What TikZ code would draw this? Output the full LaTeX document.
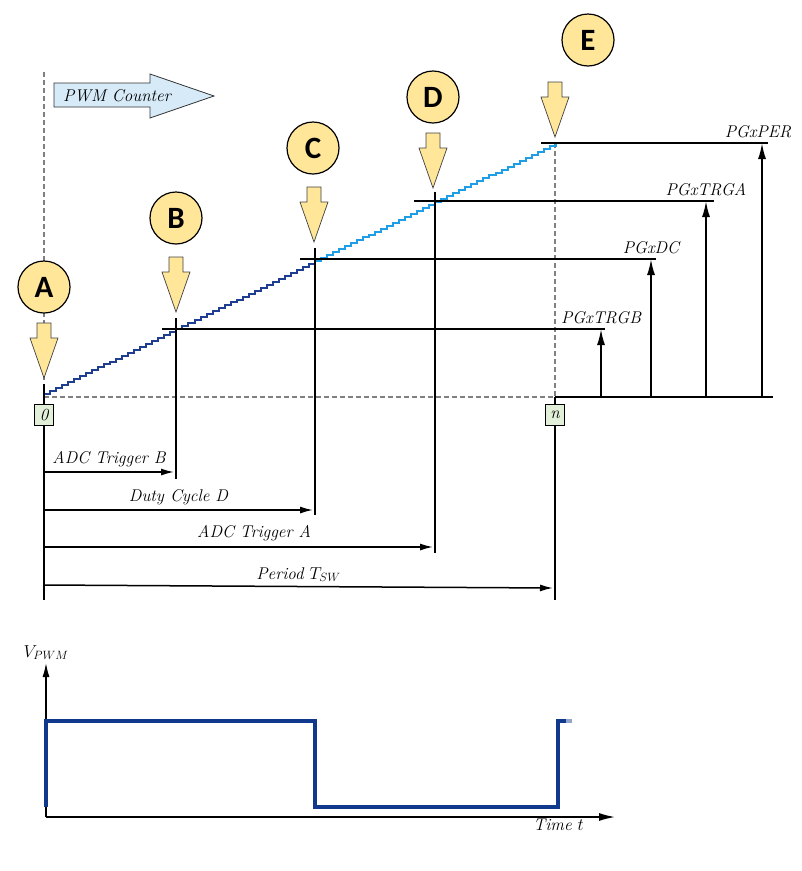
\documentclass[tikz,border=0pt]{standalone}
\usepackage{fontspec}
\newfontfamily\markfont{Carlito}
\usetikzlibrary{arrows.meta, positioning, calc}
\definecolor{cYellow}{RGB}{255,230,153}
\definecolor{cSky}{RGB}{214,234,248}
\definecolor{cBoxGreen}{RGB}{226,240,217}
\definecolor{cDark}{RGB}{31,62,145}
\definecolor{cLight}{RGB}{30,158,228}
\definecolor{cWave}{RGB}{16,56,140}
\tikzset{
	lbl/.style     ={font=\itshape\fontsize{17}{20}\selectfont, inner sep=1pt},
	markcirc/.style={circle, draw=black, line width=1.2pt, fill=cYellow, minimum size=52pt, inner sep=0pt, font=\markfont\bfseries\fontsize{31}{31}\selectfont},
	cntbox/.style  ={rectangle, draw=black, line width=1pt, fill=cBoxGreen, minimum width=19pt, minimum height=21pt, inner sep=0pt, font=\itshape\fontsize{17}{17}\selectfont},
	guide/.style   ={gray, dash pattern=on 5pt off 3pt, line width=1.4pt},
	lvl/.style     ={black, line width=1.8pt},
	dimarr/.style  ={-{Latex[length=13pt,width=7pt]}, line width=1.5pt},
	upar/.style    ={-{Latex[length=16pt,width=8pt]}, line width=1.8pt},
	stair/.style   ={line width=2pt},
	wave/.style    ={cWave, line width=3.5pt},
	% yellow marker arrow, drawn with its tip at the pic origin
	yarrow/.pic={
		\draw[fill=cYellow, draw=black!75, line width=0.7pt] (-7,-55) -- (7,-55) -- (7,-40) -- (14,-40) -- (0,0) -- (-14,-40) -- (-7,-40) -- cycle;
	},
}
\begin{document}
\begin{tikzpicture}[x=1pt, y=-1pt]
	\useasboundingbox (0,0) rectangle (802,871);
	% counter direction arrow
	\draw[fill=cSky, draw=black!80, line width=0.8pt] (54,83) -- (150,83) -- (150,74) -- (214,96) -- (150,118) -- (150,107) -- (54,107) -- cycle;
	\node[lbl] (cnt) at (117,96) {PWM Counter};
	% guide lines
	\coordinate (top0) at (44,72);
	\coordinate (o) at (44,397);
	\coordinate (on) at (555,397);
	\coordinate (pE) at (555,143);
	\draw[guide] (top0) -- (44,380);
	\draw[guide] (o) -- (on);
	\draw[guide] (pE) -- (on);
	% counter ramp
	\draw[stair, cDark] (44,394) \foreach \i in {1,...,45} { -- ++(6.02,0) -- ++(0,-2.953) };
	\draw[stair, cLight] (314.9,261.1) \foreach \i in {1,...,40} { -- ++(6.02,0) -- ++(0,-2.953) };
	% compare levels
	\draw[lvl] (162,329) -- (605,329) coordinate (lB);
	\draw[lvl] (300,259) -- (656,259) coordinate (lC);
	\draw[lvl] (414,201) -- (714,201) coordinate (lD);
	\draw[lvl] (541,143) -- (768,143) coordinate (lE);
	\draw[lvl] (on) -- (773,397) coordinate (base);
	\draw[upar] (601,397) -- (601,329) node[lbl, above=3pt] (tB) {PGxTRGB};
	\draw[upar] (651,397) -- (651,259) node[lbl, above=3pt] (tC) {PGxDC};
	\draw[upar] (706,397) -- (706,201) node[lbl, above=3pt] (tD) {PGxTRGA};
	\draw[upar] (762,397) -- (762,143) node[lbl, above=3pt, xshift=-4pt] (tE) {PGxPER};
	% event markers
	\node[markcirc] (mA) at (44,287) {A};
	\node[markcirc] (mB) at (176,218) {B};
	\node[markcirc] (mC) at (313,148) {C};
	\node[markcirc] (mD) at (433,97) {D};
	\node[markcirc] (mE) at (588,40) {E};
	\pic at (44,378) {yarrow};
	\pic at (176,312) {yarrow};
	\pic at (314,242) {yarrow};
	\pic at (433,188) {yarrow};
	\pic at (555,137) {yarrow};
	% event verticals
	\draw[lvl] (44,384) -- (44,600) coordinate (b0);
	\draw[lvl] (on) -- (555,600) coordinate (bn);
	\draw[lvl] (176,318) -- (176,479) coordinate (bB);
	\draw[lvl] (315,248) -- (315,515) coordinate (bC);
	\draw[lvl] (435,192) -- (435,553) coordinate (bD);
	\node[cntbox] (n0) at (44,415) {0};
	\node[cntbox] (nn) at (555,415) {n};
	% time spans
	\draw[dimarr] (44,472) -- (174,472) node[lbl, midway, above=3pt] (sB) {ADC Trigger B};
	\draw[dimarr] (44,510) -- (313,510) node[lbl, pos=0.5, above=3pt] (sC) {Duty Cycle D};
	\draw[dimarr] (44,547) -- (433,547) node[lbl, pos=0.54, above=4pt] (sD) {ADC Trigger A};
	\draw[dimarr] (44,585) -- (553,588) node[lbl, pos=0.5, above=3pt] (sE) {Period $T_{SW}$};
	% PWM output
	\coordinate (w0) at (46,817);
	\draw[-{Latex[length=14pt,width=7pt]}, line width=1.4pt] (w0) -- (46,663) coordinate (wy);
	\draw[-{Latex[length=16pt,width=8pt]}, line width=1.4pt] (w0) -- (615,817) coordinate (wx);
	\node[lbl, above=2pt of wy] (vl) {$V_{PWM}$};
	\node[lbl, below left=1pt and 30pt of wx] (tl) {Time $t$};
	\draw[wave] (46,807) -- (46,721) -- (315,721) -- (315,807) -- (558,807) -- (558,721) -- (566,721);
	\draw[cWave!45, line width=3.5pt] (566,721) -- (572,721);
\end{tikzpicture}
\end{document}
